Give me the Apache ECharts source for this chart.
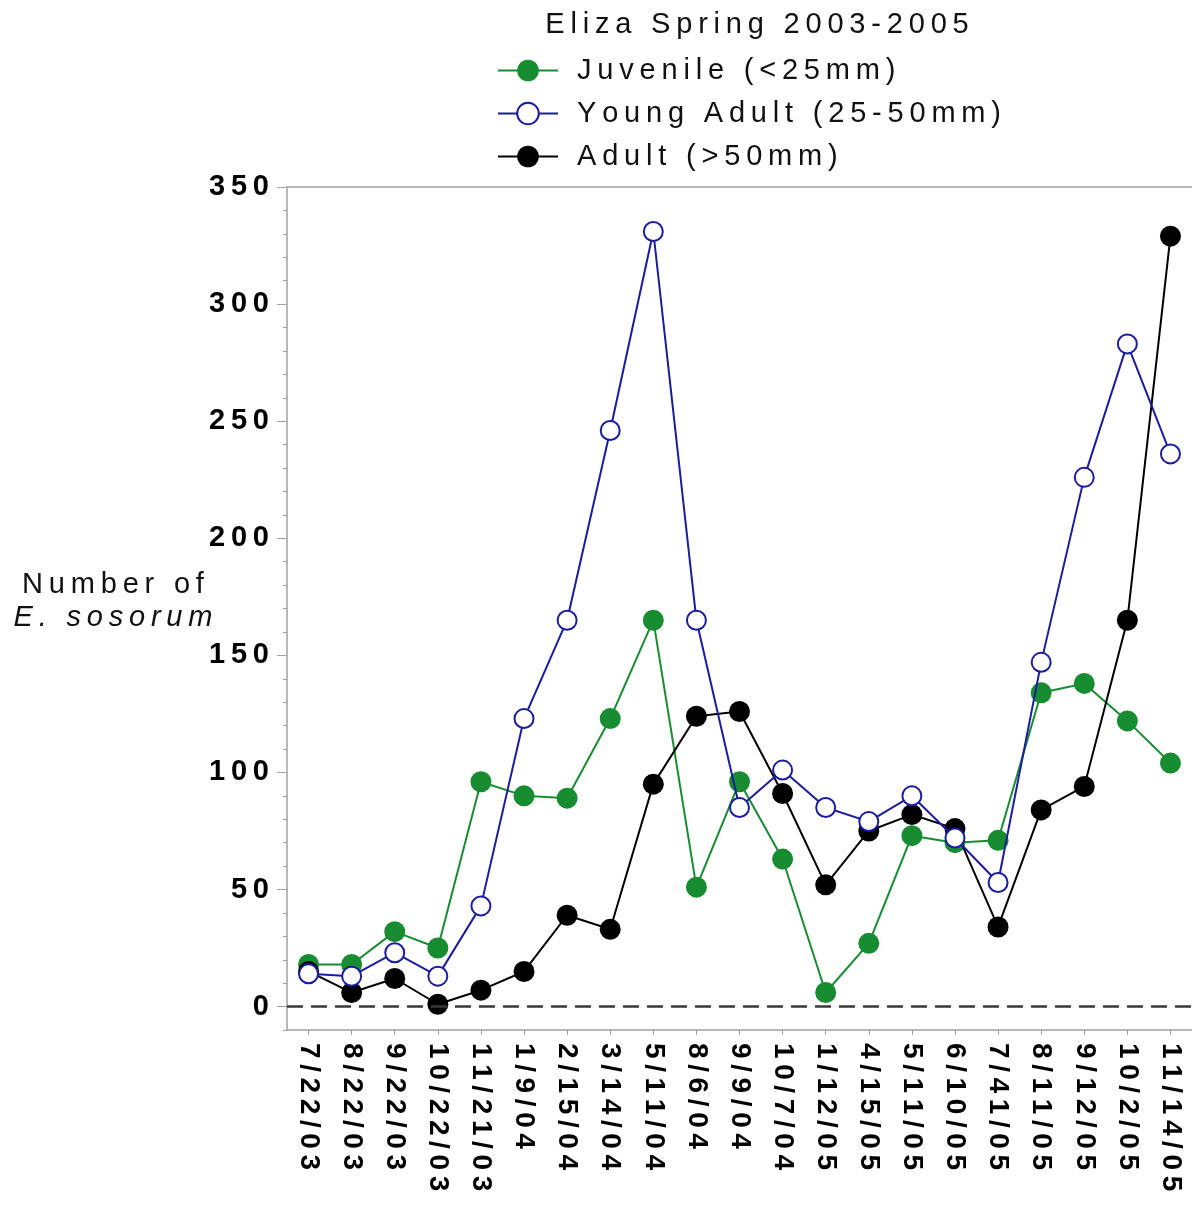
<!DOCTYPE html>
<html>
<head>
<meta charset="utf-8">
<script src="https://cdn.jsdelivr.net/npm/echarts@6/dist/echarts.min.js"></script>
<style>
html,body{margin:0;padding:0;background:#fff;}
#chart{width:1192px;height:1206px;}
</style>
</head>
<body>
<div id="chart"></div>
<script>
const categories = ['7/22/03','8/22/03','9/22/03','10/22/03','11/21/03','1/9/04','2/15/04','3/14/04','5/11/04','8/6/04','9/9/04','10/7/04','1/12/05','4/15/05','5/11/05','6/10/05','7/41/05','8/11/05','9/12/05','10/2/05','11/14/05'];
const juvenile =    [18, 18, 32, 25, 96, 90, 89, 123, 165, 51, 96, 63, 6, 27, 73, 70, 71, 134, 138, 122, 104];
const youngAdult =  [14, 13, 23, 13, 43, 123, 165, 246, 331, 165, 85, 101, 85, 79, 90, 72, 53, 147, 226, 283, 236];
const adult =       [15, 6, 12, 1, 7, 15, 39, 33, 95, 124, 126, 91, 52, 75, 82, 76, 34, 84, 94, 165, 329];
const yLabelValues = [0, 50, 100, 150, 200, 250, 300, 350];
const seriesNames = ['Juvenile (<25mm)', 'Young Adult (25-50mm)', 'Adult (>50mm)'];
const chartTitle = 'Eliza Spring 2003-2005';
const axisName1 = 'Number of';
const axisName2 = 'E. sosorum';

const sp = s => String(s).split('').join('\u2009');
const FONT = '"Liberation Sans", Arial, Helvetica, sans-serif';
const GREEN = '#188c31';
const BLUE = '#1c1c9e';
const BLACK = '#000000';
const AXIS = '#a0a0a0';

const chart = echarts.init(document.getElementById('chart'), null, {renderer: 'canvas'});
chart.setOption({
  backgroundColor: '#ffffff',
  animation: false,
  title: [
    {
      text: sp(chartTitle),
      left: 752, top: 5, textAlign: 'center',
      textStyle: {fontFamily: FONT, fontSize: 29, fontWeight: 'normal', color: '#111'}
    },
    {
      text: '{a|' + sp(axisName1) + '}\n{b|' + sp(axisName2) + '}',
      left: 108, top: 563, textAlign: 'center',
      textStyle: {
        fontWeight: 'normal',
        rich: {
          a: {fontFamily: FONT, fontSize: 29, fontWeight: 'normal', color: '#111', lineHeight: 33, align: 'center'},
          b: {fontFamily: FONT, fontSize: 29, fontWeight: 'normal', fontStyle: 'italic', color: '#111', lineHeight: 33, align: 'center'}
        }
      }
    }
  ],
  legend: {
    orient: 'vertical',
    left: 492, top: 49,
    itemWidth: 60, itemHeight: 27,
    itemGap: 10,
    data: seriesNames,
    formatter: name => sp(name),
    textStyle: {fontFamily: FONT, fontSize: 29, color: '#111', lineHeight: 33, padding: [0, 0, 0, 14]}
  },
  grid: {
    left: 287, top: 187, width: 907, height: 843
  },
  xAxis: [
    {
      type: 'category',
      data: categories,
      boundaryGap: true,
      axisLine: {show: true, onZero: false, lineStyle: {color: AXIS, width: 1.5}},
      axisTick: {show: true, alignWithLabel: true, length: 5, lineStyle: {color: AXIS, width: 1}},
      axisLabel: {
        interval: 0, rotate: -90, margin: 13,
        fontFamily: FONT, fontSize: 28, fontWeight: 'bold', color: '#000',
        formatter: v => sp(v)
      },
      splitLine: {show: false}
    },
    {
      type: 'category',
      data: categories,
      position: 'top',
      boundaryGap: true,
      axisLine: {show: true, onZero: false, lineStyle: {color: '#b8b8b8', width: 2}},
      axisTick: {show: false},
      axisLabel: {show: false},
      splitLine: {show: false}
    }
  ],
  yAxis: [
    {
      type: 'value', min: -10, max: 350,
      axisLine: {show: true, onZero: false, lineStyle: {color: AXIS, width: 1.5}},
      axisTick: {show: true, length: 10, customValues: yLabelValues, lineStyle: {color: AXIS, width: 1}},
      axisLabel: {
        customValues: yLabelValues, margin: 18,
        fontFamily: FONT, fontSize: 29, fontWeight: 'bold', color: '#000',
        formatter: v => sp(v)
      },
      splitLine: {show: false}
    },
    {
      type: 'value', min: -10, max: 350, interval: 10, position: 'left',
      axisLine: {show: false, onZero: false},
      axisTick: {show: true, length: 4, lineStyle: {color: AXIS, width: 1}},
      axisLabel: {show: false},
      splitLine: {show: false}
    }
  ],
  series: [
    {
      name: seriesNames[0], type: 'line', data: juvenile, z: 2,
      symbol: 'circle', symbolSize: 21, showAllSymbol: true,
      lineStyle: {color: GREEN, width: 2},
      itemStyle: {color: GREEN, borderColor: GREEN, borderWidth: 0},
      markLine: {
        silent: true, symbol: 'none', label: {show: false},
        emphasis: {disabled: true},
        lineStyle: {color: '#3a3a3a', type: [16, 8], width: 2.5, opacity: 1},
        data: [{yAxis: 0}]
      }
    },
    {
      name: seriesNames[1], type: 'line', data: youngAdult, z: 4,
      symbol: 'circle', symbolSize: 19, showAllSymbol: true,
      lineStyle: {color: BLUE, width: 2},
      itemStyle: {color: '#ffffff', borderColor: BLUE, borderWidth: 2}
    },
    {
      name: seriesNames[2], type: 'line', data: adult, z: 3,
      symbol: 'circle', symbolSize: 21, showAllSymbol: true,
      lineStyle: {color: BLACK, width: 2},
      itemStyle: {color: BLACK, borderColor: BLACK, borderWidth: 0}
    }
  ]
});
</script>
</body>
</html>
